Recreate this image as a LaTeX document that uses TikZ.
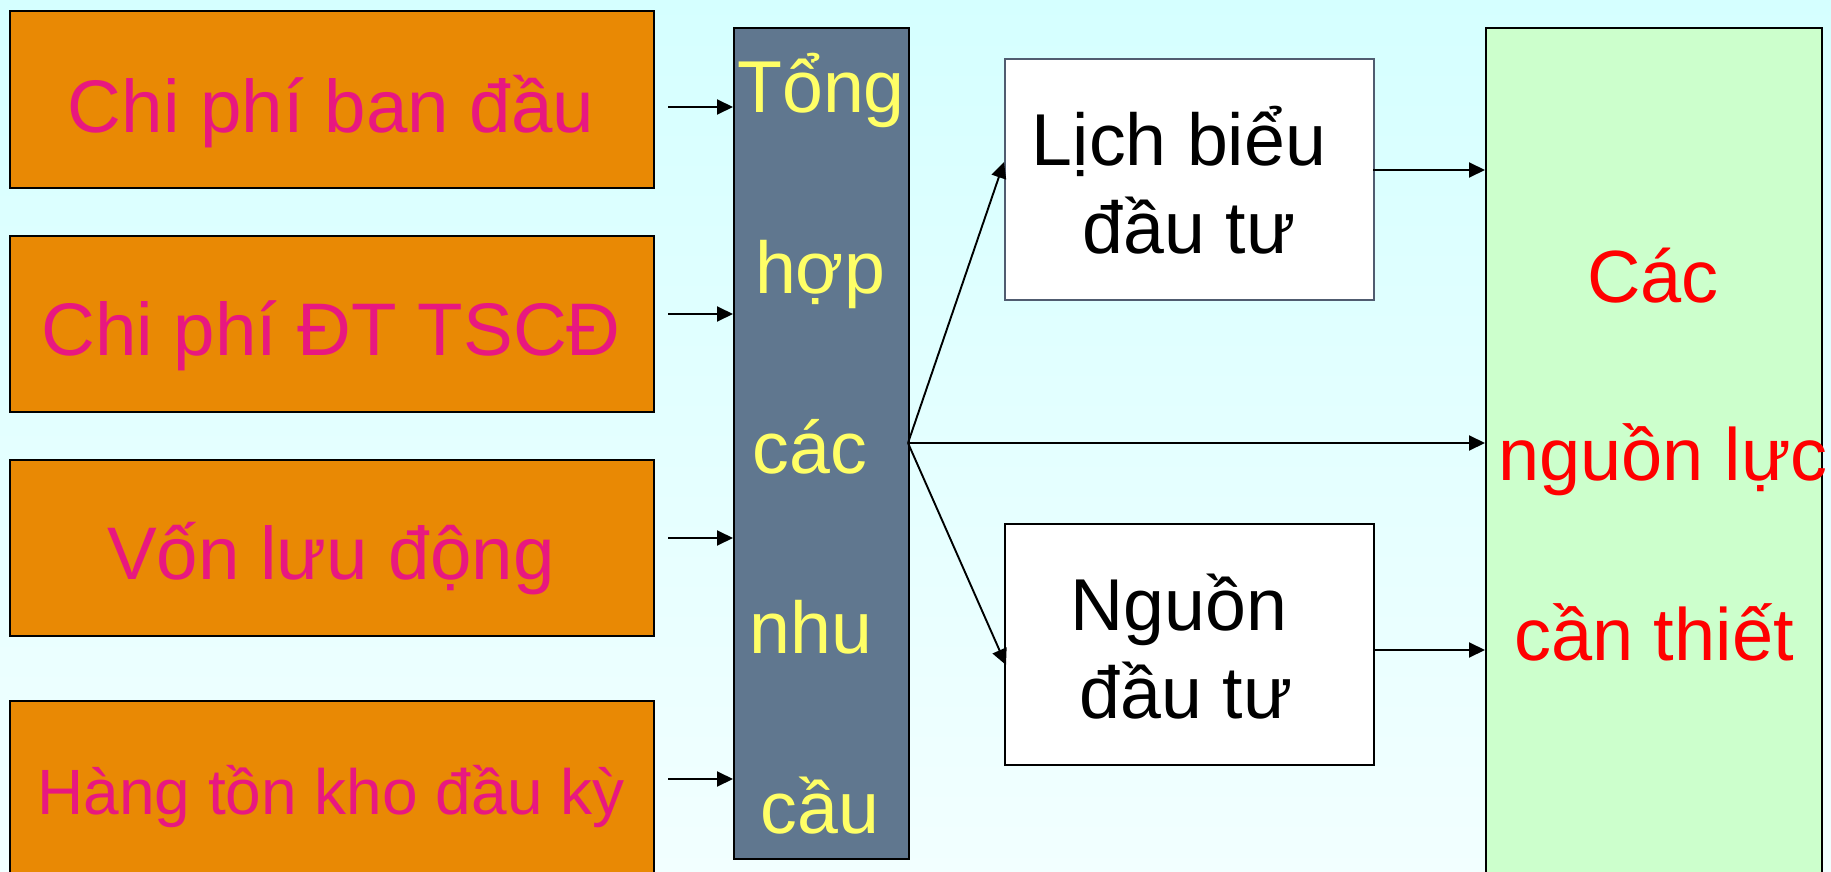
\documentclass[tikz,border=0pt]{standalone}
\usepackage{fontspec}
\setmainfont{Liberation Sans}
\usetikzlibrary{arrows.meta}
\definecolor{bgtop}{RGB}{213,255,255}
\definecolor{bgbot}{RGB}{242,255,255}
\definecolor{orangefill}{RGB}{233,137,4}
\definecolor{pinktext}{RGB}{232,24,128}
\definecolor{slatefill}{RGB}{96,119,143}
\definecolor{yellowtext}{RGB}{255,255,102}
\definecolor{greenfill}{RGB}{204,255,204}
\definecolor{grayborder}{RGB}{80,92,112}
\tikzset{
  orangebox/.style={draw=black, line width=2pt, fill=orangefill, anchor=north west, minimum width=644pt, minimum height=176pt, inner sep=0pt},
  slatebox/.style={draw=black, line width=2pt, fill=slatefill, anchor=north west, minimum width=175pt, minimum height=831pt, inner sep=0pt},
  whitebox/.style={draw=black, line width=2pt, fill=white, anchor=north west, minimum width=369pt, minimum height=241pt, inner sep=0pt},
  greenbox/.style={draw=black, line width=2pt, fill=greenfill, anchor=north west, minimum width=336pt, minimum height=880pt, inner sep=0pt},
  pinklabel/.style={anchor=base, text=pinktext, inner sep=0pt, font=\fontsize{74.5}{80}\selectfont},
  yellowlabel/.style={anchor=base, text=yellowtext, inner sep=0pt, font=\fontsize{73.5}{78}\selectfont},
  blacklabel/.style={anchor=base, text=black, inner sep=0pt, font=\fontsize{73.5}{78}\selectfont},
  redlabel/.style={anchor=base, text=red, inner sep=0pt, font=\fontsize{74}{78}\selectfont},
  arr/.style={draw=black, line width=1.9pt, -{Triangle[length=16pt,width=15pt]}}
}
\begin{document}
\begin{tikzpicture}[x=1pt,y=-1pt]
\useasboundingbox (0,0) rectangle (1831,872);
\fill[top color=bgtop, bottom color=bgbot] (0,0) rectangle (1831,872);

% left orange boxes
\node[orangebox] (o1) at (9,10.5) {};
\node[orangebox] (o2) at (9,235) {};
\node[orangebox] (o3) at (9,459) {};
\node[orangebox] (o4) at (9,700) {};
\node[pinklabel] (t1) at (331,132) {Chi phí ban đầu};
\node[pinklabel] (t2) at (331,355) {Chi phí ĐT TSCĐ};
\node[pinklabel] (t3) at (331,579) {Vốn lưu động};
\node[pinklabel, font=\fontsize{64}{70}\selectfont] (t4) at (331,814) {Hàng tồn kho đầu kỳ};

% middle box
\node[slatebox] (m) at (733,27) {};
\node[yellowlabel] (m1) at (821,113) {Tổng};
\node[yellowlabel] (m2) at (820,293) {hợp};
\node[yellowlabel] (m3) at (810,473) {các};
\node[yellowlabel] (m4) at (811,653) {nhu};
\node[yellowlabel] (m5) at (820,833) {cầu};

% white boxes
\node[whitebox, draw=grayborder] (l) at (1004,58) {};
\node[blacklabel] (l1) at (1179,165) {Lịch biểu};
\node[blacklabel] (l2) at (1189,253) {đầu tư};
\node[whitebox] (n) at (1004,523) {};
\node[blacklabel] (n1) at (1179,630) {Nguồn};
\node[blacklabel] (n2) at (1186,718) {đầu tư};

% green box
\node[greenbox] (g) at (1485,27) {};
\node[redlabel] (g1) at (1653,302) {Các};
\node[redlabel] (g2) at (1663,480) {nguồn lực};
\node[redlabel] (g3) at (1654,660) {cần thiết};

% left arrows
\coordinate (s1) at (668,107);
\coordinate (s2) at (668,314);
\coordinate (s3) at (668,538);
\coordinate (s4) at (668,779);
\draw[arr] (s1) -- (s1 -| m.west);
\draw[arr] (s2) -- (s2 -| m.west);
\draw[arr] (s3) -- (s3 -| m.west);
\draw[arr] (s4) -- (s4 -| m.west);

% fan out
\coordinate (b) at (908,443);
\coordinate (lt) at (1004,162);
\coordinate (nt) at (1006,665);
\draw[arr] (b) -- (lt);
\draw[arr] (b) -- (nt);
\draw[arr] (b) -- (b -| g.west);

% right arrows
\coordinate (lr) at (1373,170);
\coordinate (nr) at (1373,650);
\draw[arr] (lr) -- (lr -| g.west);
\draw[arr] (nr) -- (nr -| g.west);
\end{tikzpicture}
\end{document}
